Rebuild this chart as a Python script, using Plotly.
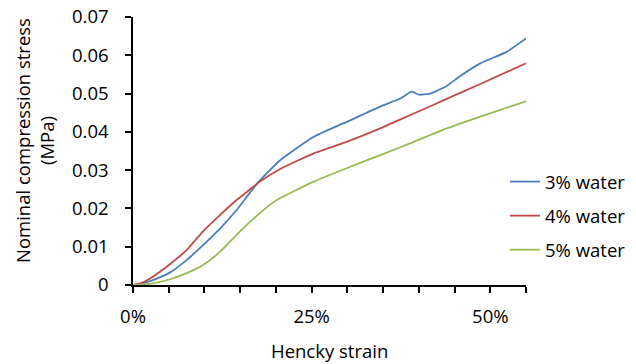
import plotly.graph_objects as go

# Data (Hencky strain as fraction, stress in MPa)
strain_3 = [0, 0.01, 0.024, 0.052, 0.075, 0.098, 0.122, 0.145, 0.164, 0.176, 0.206,
            0.253, 0.299, 0.346, 0.374, 0.39, 0.40, 0.416, 0.439, 0.458, 0.486, 0.523, 0.55]
stress_3 = [0, 0.0002, 0.001, 0.0033, 0.0065, 0.0104, 0.0148, 0.0196, 0.0242, 0.0270, 0.0326,
            0.0387, 0.0426, 0.0466, 0.0487, 0.0505, 0.0497, 0.0500, 0.0520, 0.0546, 0.0579, 0.0609, 0.0644]

strain_4 = [0, 0.01, 0.024, 0.052, 0.075, 0.098, 0.122, 0.145, 0.164, 0.176, 0.206,
            0.253, 0.299, 0.346, 0.393, 0.439, 0.486, 0.55]
stress_4 = [0, 0.0004, 0.0017, 0.0055, 0.0091, 0.0140, 0.0183, 0.0222, 0.0250, 0.0268, 0.0303,
            0.0344, 0.0374, 0.0409, 0.0448, 0.0486, 0.0525, 0.0579]

strain_5 = [0, 0.02, 0.035, 0.052, 0.08, 0.098, 0.122, 0.145, 0.168, 0.192, 0.206,
            0.253, 0.299, 0.346, 0.393, 0.439, 0.486, 0.55]
stress_5 = [0, 0.0002, 0.0007, 0.0015, 0.0035, 0.0052, 0.0087, 0.0131, 0.0172, 0.0210, 0.0227,
            0.0270, 0.0305, 0.0339, 0.0374, 0.0409, 0.0440, 0.0480]

series_names = ["3% water", "4% water", "5% water"]
series_colors = ["#4A7EBB", "#BE4B48", "#98B954"]

x_tickvals = [0, 0.25, 0.5]
x_ticktext = ["0%", "25%", "50%"]
y_tickvals = [0, 0.01, 0.02, 0.03, 0.04, 0.05, 0.06, 0.07]
y_ticktext = ["0", "0.01", "0.02", "0.03", "0.04", "0.05", "0.06", "0.07"]

FONT = "'Open Sans', sans-serif"
FS = 18.5

fig = go.Figure()
for i, (xs, ys) in enumerate([(strain_3, stress_3), (strain_4, stress_4), (strain_5, stress_5)]):
    fig.add_trace(go.Scatter(
        x=xs, y=ys, mode="lines", name=series_names[i],
        line=dict(color=series_colors[i], width=1.8, shape="spline", smoothing=0.5),
        legendgroup=f"g{i}",
    ))

fig.update_layout(
    width=636, height=364,
    margin=dict(l=133, r=110, t=17, b=79, autoexpand=False),
    paper_bgcolor="white", plot_bgcolor="white",
    font=dict(family=FONT, size=FS, color="black"),
    showlegend=True,
    legend=dict(
        x=0.9466, xanchor="left", y=0.455, yanchor="top",
        font=dict(size=FS), tracegroupgap=7,
        bgcolor="rgba(0,0,0,0)",
    ),
    annotations=[
        dict(text="Nominal compression stress<br>(MPa)", textangle=-90,
             xref="paper", yref="paper", x=(34 - 133) / 393, y=(285 - 141) / 268,
             xanchor="center", yanchor="middle", showarrow=False,
             font=dict(size=FS, family=FONT)),
        dict(text="Hencky strain",
             xref="paper", yref="paper", x=0.5, y=(285 - 350) / 268,
             xanchor="center", yanchor="middle", showarrow=False,
             font=dict(size=FS, family=FONT)),
    ],
)

fig.update_xaxes(
    range=[0, 0.55], showgrid=False, zeroline=False, automargin=False,
    showline=True, linecolor="black", linewidth=1.5,
    tickvals=x_tickvals, ticktext=x_ticktext,
    ticks="outside", ticklen=6, tickwidth=1.5, tickcolor="black",
    minor=dict(ticks="outside", dtick=0.05, tick0=0, ticklen=6, tickwidth=1.5, tickcolor="black"),
    ticklabelstandoff=8,
)
fig.update_yaxes(
    range=[0, 0.07], showgrid=False, zeroline=False, automargin=False,
    showline=True, linecolor="black", linewidth=1.5,
    tickvals=y_tickvals, ticktext=y_ticktext,
    ticks="outside", ticklen=6, tickwidth=1.5, tickcolor="black",
    ticklabelstandoff=13,
)

fig.write_html("out.html")
